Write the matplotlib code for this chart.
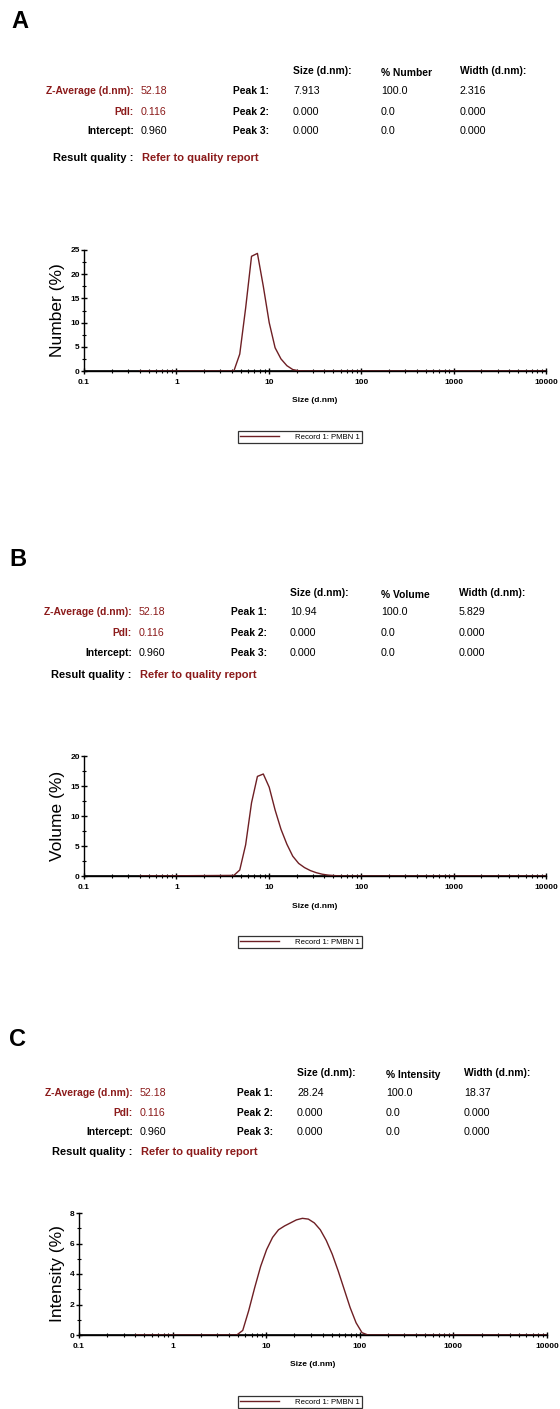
import matplotlib
matplotlib.use("Agg")
import matplotlib.pyplot as plt
from matplotlib.ticker import FixedLocator, NullFormatter

plt.rcParams['font.family'] = ['Liberation Sans', 'DejaVu Sans']

# --- data ---
sizes_a = [0.4, 4.187, 4.849, 5.615, 6.503, 7.531, 8.721, 10.10, 11.70, 13.54, 15.69, 18.17, 21.04, 24.36, 10000]
number_a = [0, 0, 3.5, 13.0, 23.7, 24.3, 17.5, 10.0, 4.8, 2.5, 1.1, 0.3, 0.05, 0, 0]

sizes_b = [0.4, 4.187, 4.849, 5.615, 6.503, 7.531, 8.721, 10.10, 11.70, 13.54, 15.69, 18.17, 21.04,
           24.36, 28.21, 32.67, 37.84, 43.82, 50.75, 58.77, 68.06, 10000]
volume_b = [0, 0.1, 1.0, 5.2, 12.2, 16.6, 17.0, 14.8, 11.0, 7.8, 5.3, 3.3, 2.1,
            1.4, 0.9, 0.55, 0.3, 0.15, 0.07, 0.02, 0, 0]

sizes_c = [0.4, 4.849, 5.615, 6.503, 7.531, 8.721, 10.10, 11.70, 13.54, 15.69, 18.17, 21.04, 24.36,
           28.21, 32.67, 37.84, 43.82, 50.75, 58.77, 68.06, 78.82, 91.28, 105.7, 122.4, 10000]
intensity_c = [0, 0, 0.3, 1.6, 3.1, 4.5, 5.6, 6.4, 6.9, 7.15, 7.35, 7.55, 7.65,
               7.6, 7.35, 6.9, 6.2, 5.3, 4.2, 3.0, 1.8, 0.8, 0.15, 0, 0]

panel_letters = ["A", "B", "C"]
dist_labels = ["% Number", "% Volume", "% Intensity"]
ylabels = ["Number (%)", "Volume (%)", "Intensity (%)"]
peak1_size = ["7.913", "10.94", "28.24"]
peak1_width = ["2.316", "5.829", "18.37"]
z_average = "52.18"
pdi = "0.116"
intercept = "0.960"
legend_label = "Record 1: PMBN 1"
xticks = [0.1, 1, 10, 100, 1000, 10000]
xticklabels = ["0.1", "1", "10", "100", "1000", "10000"]
ymax = [25, 20, 8]
ystep = [5, 5, 2]

W, H = 560, 1409
fig = plt.figure(figsize=(W / 100, H / 100), dpi=100)
red = "#8b1a1a"
line_col = "#6e1f24"


def fx(px):
    return px / W


def fy(py):
    return 1 - py / H


# pixel layout for each panel
layouts = [
    dict(letter=(11, 22), head=71, rows=(91, 112, 131), rq=158, c1=141, c2=233, c3=293, c4=381, c5=460,
         ax=(84, 546, 250, 371), xl=401, leg=437),
    dict(letter=(9, 560), head=593, rows=(612, 633, 653), rq=675, c1=139, c2=231, c3=290, c4=381, c5=459,
         ax=(84, 546, 756, 876), xl=906, leg=942),
    dict(letter=(9, 1040), head=1073, rows=(1093, 1113, 1132), rq=1152, c1=140, c2=237, c3=297, c4=386, c5=464,
         ax=(79, 547, 1213, 1335), xl=1365, leg=1402),
]
series = [(sizes_a, number_a), (sizes_b, volume_b), (sizes_c, intensity_c)]

for i, L in enumerate(layouts):
    fs = 7.4
    fig.text(fx(L['letter'][0]), fy(L['letter'][1]), panel_letters[i], fontsize=17, fontweight='bold',
             va='center', ha='left')
    # table header
    fig.text(fx(L['c3']), fy(L['head']), "Size (d.nm):", fontsize=fs, fontweight='bold', va='center')
    fig.text(fx(L['c4']), fy(L['head'] + 2), dist_labels[i], fontsize=fs, fontweight='bold', va='center')
    fig.text(fx(L['c5']), fy(L['head']), "Width (d.nm):", fontsize=fs, fontweight='bold', va='center')
    r1, r2, r3 = L['rows']
    lab_x = fx(L['c1'] - 7)
    fig.text(lab_x, fy(r1), "Z-Average (d.nm):", fontsize=fs, fontweight='bold', color=red, va='center', ha='right')
    fig.text(lab_x, fy(r2), "PdI:", fontsize=fs, fontweight='bold', color=red, va='center', ha='right')
    fig.text(lab_x, fy(r3), "Intercept:", fontsize=fs, fontweight='bold', va='center', ha='right')
    fig.text(fx(L['c1']), fy(r1), z_average, fontsize=fs + 0.3, color=red, va='center')
    fig.text(fx(L['c1']), fy(r2), pdi, fontsize=fs + 0.3, color=red, va='center')
    fig.text(fx(L['c1']), fy(r3), intercept, fontsize=fs + 0.3, va='center')
    for r, name, sz, pc, wd in [(r1, "Peak 1:", peak1_size[i], "100.0", peak1_width[i]),
                                (r2, "Peak 2:", "0.000", "0.0", "0.000"),
                                (r3, "Peak 3:", "0.000", "0.0", "0.000")]:
        fig.text(fx(L['c2']), fy(r), name, fontsize=fs, fontweight='bold', va='center')
        fig.text(fx(L['c3']), fy(r), sz, fontsize=fs + 0.3, va='center')
        fig.text(fx(L['c4']), fy(r), pc, fontsize=fs + 0.3, va='center')
        fig.text(fx(L['c5']), fy(r), wd, fontsize=fs + 0.3, va='center')
    fig.text(fx(L['c1'] - 8), fy(L['rq']), "Result quality :", fontsize=8, fontweight='bold', va='center', ha='right')
    fig.text(fx(L['c1'] + 1), fy(L['rq']), "Refer to quality report", fontsize=8, fontweight='bold',
             color=red, va='center')

    # plot
    x0, x1, y0, y1 = L['ax']
    ax = fig.add_axes([fx(x0), fy(y1), fx(x1 - x0), (y1 - y0) / H])
    xs, ys = series[i]
    ax.axhline(0, color='black', lw=1.2, zorder=1)
    ax.plot(xs, ys, color=line_col, lw=1.0, label=legend_label, zorder=2)
    ax.set_xscale('log')
    ax.set_xlim(0.1, 10000)
    ax.set_ylim(0, ymax[i])
    for s in ['top', 'right']:
        ax.spines[s].set_visible(False)
    ax.spines['left'].set_linewidth(1.0)
    ax.spines['bottom'].set_linewidth(1.0)
    ax.set_xticks(xticks)
    ax.set_xticklabels(xticklabels)
    minors = [m * 10.0 ** e for e in range(-1, 4) for m in range(2, 10)]
    ax.xaxis.set_minor_locator(FixedLocator(minors))
    ax.xaxis.set_minor_formatter(NullFormatter())
    yt = list(range(0, ymax[i] + 1, ystep[i]))
    ax.set_yticks(yt)
    ax.set_yticks([v + ystep[i] / 2 for v in yt[:-1]], minor=True)
    ax.tick_params(which='major', direction='inout', length=4, width=1, labelsize=6, pad=1)
    ax.tick_params(which='minor', direction='inout', length=3, width=0.8)
    for lab in ax.get_xticklabels() + ax.get_yticklabels():
        lab.set_fontweight('bold')
    ax.tick_params(axis='x', pad=4)
    ax.set_ylabel(ylabels[i], fontsize=12.5, labelpad=4)
    fig.text(fx((x0 + x1) / 2), fy(L['xl']), "Size (d.nm)", fontsize=6, fontweight='bold',
             ha='center', va='center')
    leg = fig.legend(handles=ax.get_lines()[1:], loc='center', bbox_to_anchor=(fx(300), fy(L['leg'])),
                     fontsize=5.6, frameon=True, fancybox=False, edgecolor='black', handlelength=5,
                     borderpad=0.3, handletextpad=2.0)
    leg.get_frame().set_linewidth(0.9)

fig.savefig("out.png", dpi=100)
